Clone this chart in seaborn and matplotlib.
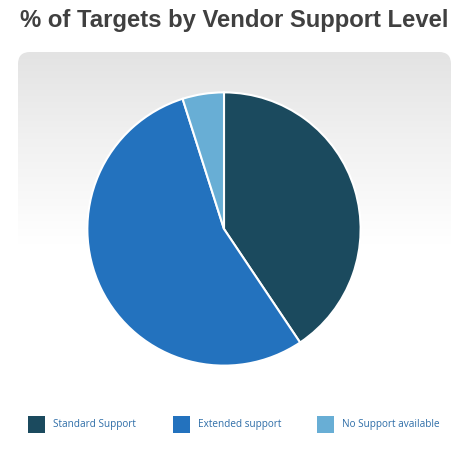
import numpy as np
import matplotlib
matplotlib.use("Agg")
import matplotlib.pyplot as plt
from matplotlib.patches import FancyBboxPatch, Rectangle
import seaborn as sns

sns.set_style("white")
plt.rcParams["font.family"] = ["Liberation Sans", "DejaVu Sans"]

# data
labels = ["Standard Support", "Extended support", "No Support available"]
shares = [40.6, 54.5, 4.9]
colors = ["#1b4a5e", "#2372be", "#68aed5"]

W, H = 470, 455
fig = plt.figure(figsize=(W / 100, H / 100), dpi=100)

# background panel with a gray-to-white gradient, in pixel coordinates
bg = fig.add_axes([0, 0, 1, 1])
bg.set_xlim(0, W)
bg.set_ylim(H, 0)
bg.axis("off")
grad = np.linspace(0, 1, 256)[:, None]
cmap = matplotlib.colors.LinearSegmentedColormap.from_list(
    "g", [(0, "#e3e3e3"), (0.25, "#f1f1f1"), (0.55, "#ffffff"), (1, "#ffffff")])
im = bg.imshow(grad, extent=(18, 451, 400, 52), cmap=cmap, aspect="auto", zorder=0)
panel = FancyBboxPatch((18, 52), 433, 348, boxstyle="round,pad=0,rounding_size=12",
                       transform=bg.transData, facecolor="none", edgecolor="none")
bg.add_patch(panel)
im.set_clip_path(panel)

fig.text(234 / W, 1 - 21 / H, "% of Targets by Vendor Support Level", ha="center", va="center",
         fontsize=17.2, fontweight="bold", color="#404040")

# pie
cx, cy, r = 224, 229, 138
ax = fig.add_axes([(cx - r) / W, (H - cy - r) / H, 2 * r / W, 2 * r / H])
ax.pie(shares, colors=colors, startangle=90, counterclock=False,
       wedgeprops=dict(edgecolor="white", linewidth=1.5))
ax.set_xlim(-1.01, 1.01)
ax.set_ylim(-1.01, 1.01)
ax.set_aspect("equal")
ax.axis("off")

# legend
lx = [28, 173, 317]
for x, lab, c in zip(lx, labels, colors):
    fig.add_artist(Rectangle((x / W, 1 - 433 / H), 17 / W, 17 / H, transform=fig.transFigure,
                             facecolor=c, edgecolor="none"))
    fig.text((x + 25) / W, 1 - 424.5 / H, lab, ha="left", va="center", fontsize=7.2,
             color="#2f6ea8", family=["Open Sans", "DejaVu Sans"])

fig.savefig("out.png", dpi=100)
